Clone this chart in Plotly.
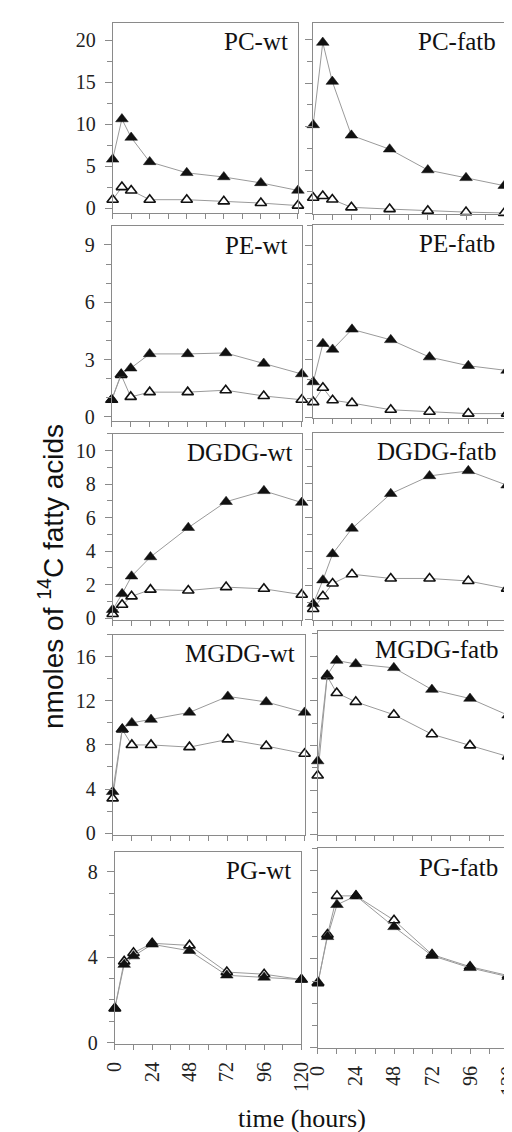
import plotly.graph_objects as go

# ---- data ----
time_h = [0, 6, 12, 24, 48, 72, 96, 120]

pc_wt_filled = [5.8, 10.6, 8.4, 5.5, 4.2, 3.7, 3.0, 2.1]
pc_wt_open = [1.0, 2.5, 2.1, 1.0, 1.0, 0.8, 0.6, 0.3]
pc_fatb_filled = [10.2, 19.7, 15.2, 9.0, 7.4, 5.0, 4.1, 3.2]
pc_fatb_open = [1.8, 2.0, 1.6, 0.7, 0.5, 0.3, 0.15, 0.05]

pe_wt_filled = [0.9, 2.25, 2.55, 3.3, 3.3, 3.35, 2.8, 2.25]
pe_wt_open = [0.9, 2.2, 1.05, 1.3, 1.3, 1.4, 1.1, 0.9]
pe_fatb_filled = [1.85, 3.85, 3.55, 4.6, 4.05, 3.15, 2.7, 2.45]
pe_fatb_open = [0.8, 1.55, 0.9, 0.75, 0.4, 0.3, 0.2, 0.2]

dgdg_wt_filled = [0.5, 1.45, 2.5, 3.65, 5.4, 6.95, 7.6, 6.9]
dgdg_wt_open = [0.25, 0.8, 1.3, 1.7, 1.65, 1.85, 1.75, 1.4]
dgdg_fatb_filled = [0.9, 2.3, 3.85, 5.35, 7.4, 8.45, 8.75, 7.9]
dgdg_fatb_open = [0.6, 1.35, 2.1, 2.65, 2.4, 2.4, 2.25, 1.8]

mgdg_wt_filled = [3.75, 9.45, 10.0, 10.3, 10.95, 12.4, 11.9, 10.95]
mgdg_wt_open = [3.15, 9.4, 8.0, 8.0, 7.8, 8.5, 7.9, 7.2]
mgdg_fatb_filled = [6.6, 14.3, 15.6, 15.3, 14.95, 13.0, 12.2, 10.7]
mgdg_fatb_open = [5.3, 14.2, 12.7, 11.9, 10.75, 9.0, 8.0, 7.0]

pg_wt_filled = [1.6, 3.65, 4.05, 4.6, 4.3, 3.15, 3.05, 2.95]
pg_wt_open = [1.6, 3.8, 4.2, 4.65, 4.55, 3.3, 3.2, 2.95]
pg_fatb_filled = [2.95, 5.0, 6.45, 6.85, 5.45, 4.15, 3.6, 3.2]
pg_fatb_open = [2.9, 5.1, 6.85, 6.85, 5.75, 4.2, 3.65, 3.25]

panel_titles = ["PC-wt", "PC-fatb", "PE-wt", "PE-fatb", "DGDG-wt", "DGDG-fatb",
                "MGDG-wt", "MGDG-fatb", "PG-wt", "PG-fatb"]
filled_series = [pc_wt_filled, pc_fatb_filled, pe_wt_filled, pe_fatb_filled,
                 dgdg_wt_filled, dgdg_fatb_filled, mgdg_wt_filled, mgdg_fatb_filled,
                 pg_wt_filled, pg_fatb_filled]
open_series = [pc_wt_open, pc_fatb_open, pe_wt_open, pe_fatb_open,
               dgdg_wt_open, dgdg_fatb_open, mgdg_wt_open, mgdg_fatb_open,
               pg_wt_open, pg_fatb_open]
x_tick_vals = [0, 24, 48, 72, 96, 120]
y_label = "nmoles of <sup>14</sup>C fatty acids"
x_label = "time (hours)"

# ---- geometry (pixels): x0, x1, ytop, ybottom ; y range ; major dtick, minor dtick ; title right edge
W, H = 512, 1132
geom = [
    ((97, 291, 14.7, 206.7), (-0.59, 22.08), 5, 2.5, 283),
    ((307, 507, 14.7, 207.5), (-0.05, 22.0), 5, 2.5, 501),
    ((96, 295, 220, 416.7), (-0.23, 9.98), 3, 1, 283),
    ((307, 510, 218.3, 413.3), (-0.03, 10.07), 3, 1, 499),
    ((97, 295, 429.3, 616.7), (-0.1, 11.0), 2, 1, 288),
    ((307, 510, 428.3, 616.7), (-0.04, 10.99), 2, 1, 501),
    ((97, 298, 631.7, 833.3), (-0.14, 18.0), 4, 2, 290),
    ((311.7, 511, 628, 834), (-0.06, 18.25), 4, 2, 504),
    ((99.3, 294.7, 850.7, 1044.3), (-0.07, 8.93), 4, 1, 286),
    ((312, 511, 847, 1048.3), (-0.02, 9.0), 4, 1, 503),
]

SERIF = "Liberation Serif, Times New Roman, serif"
SANS = "Liberation Sans, Arial, sans-serif"
LINE_C = "#8a8a8a"

fig = go.Figure()
layout = dict(width=W, height=H, margin=dict(l=0, r=0, t=0, b=0), autosize=False,
              paper_bgcolor="white", plot_bgcolor="white", showlegend=False,
              font=dict(family=SERIF, color="#222"))
annotations = []

for i, (title, fil, opn, g) in enumerate(zip(panel_titles, filled_series, open_series, geom)):
    (x0, x1, yt, yb), yr, dmaj, dmin, tx = g
    n = i + 1
    xs = "" if n == 1 else str(n)
    is_left = (i % 2 == 0)
    is_bottom = (i >= 8)
    xa = dict(domain=[x0 / W, x1 / W], range=[0, 120], anchor="y" + xs,
              showline=True, linecolor=LINE_C, linewidth=1, mirror=True,
              showgrid=False, zeroline=False,
              ticks="outside", ticklen=5, tickcolor=LINE_C, tickwidth=1,
              tickvals=x_tick_vals, showticklabels=is_bottom, tickangle=-90,
              ticklabelstandoff=4,
              tickfont=dict(family=SERIF, size=20, color="#222"),
              minor=dict(dtick=12, tick0=0, ticks="outside", ticklen=5, tickcolor=LINE_C))
    ya = dict(domain=[1 - yb / H, 1 - yt / H], range=list(yr), anchor="x" + xs,
              showline=True, linecolor=LINE_C, linewidth=1, mirror=True,
              showgrid=False, zeroline=False,
              ticks="outside", ticklen=7, tickcolor=LINE_C, tickwidth=1,
              dtick=dmaj, tick0=0, showticklabels=is_left, ticklabelstandoff=5,
              tickfont=dict(family=SERIF, size=20, color="#222"),
              minor=dict(dtick=dmin, tick0=0, ticks="outside", ticklen=5, tickcolor=LINE_C))
    layout["xaxis" + xs] = xa
    layout["yaxis" + xs] = ya

    fig.add_trace(go.Scatter(x=time_h, y=opn, mode="lines+markers", xaxis="x" + xs, yaxis="y" + xs,
                             line=dict(color="#9a9a9a", width=1),
                             marker=dict(symbol="triangle-up", size=10, color="white",
                                         line=dict(color="#111", width=1.6)),
                             cliponaxis=False))
    fig.add_trace(go.Scatter(x=time_h, y=fil, mode="lines+markers", xaxis="x" + xs, yaxis="y" + xs,
                             line=dict(color="#9a9a9a", width=1),
                             marker=dict(symbol="triangle-up", size=11, color="#111",
                                         line=dict(color="#111", width=0.5)),
                             cliponaxis=False))
    annotations.append(dict(text=title, xref="paper", yref="paper", x=tx / W, y=1 - (yt + 19) / H,
                            xanchor="right", yanchor="middle", showarrow=False,
                            font=dict(family=SERIF, size=25, color="#111")))

annotations.append(dict(text=y_label, xref="paper", yref="paper", x=33 / W, y=1 - 573 / H,
                        xanchor="center", yanchor="middle", textangle=-90, showarrow=False,
                        font=dict(family=SANS, size=28, color="#111")))
annotations.append(dict(text=x_label, xref="paper", yref="paper", x=295 / W, y=1 - 1119 / H,
                        xanchor="center", yanchor="middle", showarrow=False,
                        font=dict(family=SERIF, size=26, color="#111")))
layout["annotations"] = annotations
fig.update_layout(**layout)
fig.write_html("out.html")
